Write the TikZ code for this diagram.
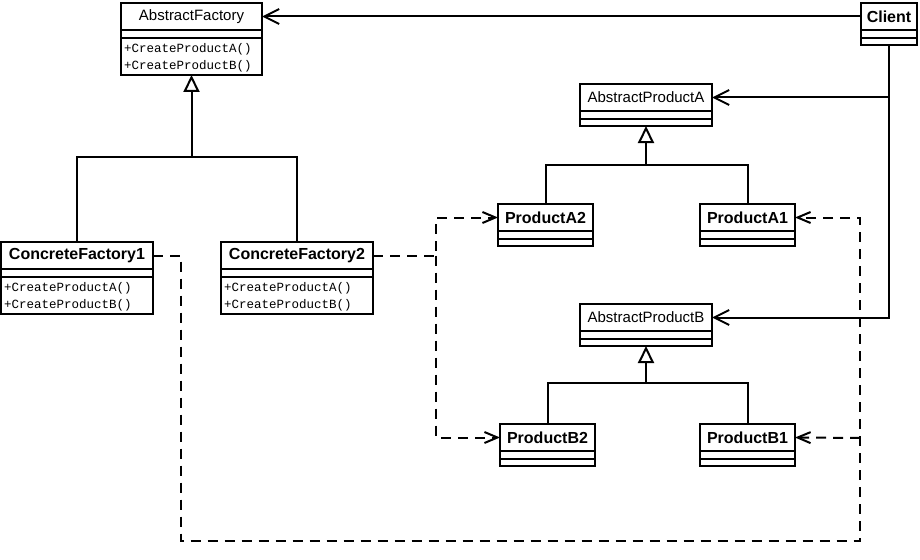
\documentclass[tikz,border=0pt]{standalone}
\usepackage{fontspec}
\setmainfont{Liberation Sans}
\setmonofont{Liberation Mono}
\usetikzlibrary{positioning,calc,arrows.meta}

\newcommand{\regfont}{\fontsize{15}{18}\selectfont}
\newcommand{\clsbold}{\fontsize{16}{19}\selectfont\bfseries}
\newcommand{\methfont}{\ttfamily\fontsize{12.5}{17}\selectfont}

% name, x, y, width, height, font, title, methods
\newcommand{\umlclass}[8]{%
  \node[cls, minimum width=#4, minimum height=#5] (#1) at (#2,#3) {};
  \node[font=#6] (#1t) at (#2+#4/2, #3+13.5) {#7};
  \draw[sepline] (#2,#3+27) -- ++(#4,0);
  \draw[sepline] (#2,#3+35) -- ++(#4,0);
  \if\relax\detokenize{#8}\relax\else
    \node[meth] (#1m) at (#2+2,#3+39) {#8};
  \fi
}

\begin{document}
\begin{tikzpicture}[x=1pt,y=-1pt,
    cls/.style={draw,rectangle,line width=2pt,anchor=north west,inner sep=0pt,outer sep=0pt},
    sepline/.style={line width=2pt},
    meth/.style={anchor=north west,inner sep=1pt,align=left,font=\methfont},
    assoc/.style={line width=2pt,-{Straight Barb[length=15pt,width=15pt]}},
    dep/.style={line width=2pt,dash pattern=on 10pt off 7pt,-{Straight Barb[length=13pt,width=11pt]}},
    inh/.style={line width=2pt,-{Triangle[open,length=17pt,width=16pt,fill=white]}},
    bar/.style={line width=2pt}]
  \useasboundingbox (0,0) rectangle (920,559);

  % factories
  \umlclass{af}{121}{3}{141}{72}{\regfont}{AbstractFactory}{+CreateProductA()\\+CreateProductB()}
  \umlclass{cfa}{1}{242}{152}{72}{\clsbold}{ConcreteFactory1}{+CreateProductA()\\+CreateProductB()}
  \umlclass{cfb}{221}{242}{152}{72}{\clsbold}{ConcreteFactory2}{+CreateProductA()\\+CreateProductB()}
  \umlclass{client}{861}{3}{56}{42}{\clsbold}{Client}{}

  % products
  \umlclass{apa}{580}{84}{132}{42}{\regfont}{AbstractProductA}{}
  \umlclass{pa2}{498}{204}{95}{42}{\clsbold}{ProductA2}{}
  \umlclass{pa1}{700}{204}{95}{42}{\clsbold}{ProductA1}{}
  \umlclass{apb}{580}{304}{132}{42}{\regfont}{AbstractProductB}{}
  \umlclass{pb2}{500}{424}{95}{42}{\clsbold}{ProductB2}{}
  \umlclass{pb1}{700}{424}{95}{42}{\clsbold}{ProductB1}{}

  % inheritance
  \coordinate (fbar) at ($(af.south)+(0,82)$);
  \draw[bar] (cfa.north) |- (fbar) -| (cfb.north);
  \draw[inh] (fbar) -- (af.south);

  \coordinate (abar) at ($(apa.south)+(0,39)$);
  \draw[bar] (pa2.north) |- (abar) -| (pa1.north);
  \draw[inh] (abar) -- (apa.south);

  \coordinate (bbar) at ($(apb.south)+(0,37)$);
  \draw[bar] (pb2.north) |- (bbar) -| (pb1.north);
  \draw[inh] (bbar) -- (apb.south);

  % associations from the client
  \draw[assoc] (client.west |- clientt) -- (af.east |- clientt);
  \draw[assoc] (client.south) |- (apb.east |- apbt);
  \draw[assoc] (client.south |- apat) -- (apa.east |- apat);

  % creates
  \coordinate (cfbj) at ($(cfb.east |- cfbt)+(63,0)$);
  \draw[dep] (cfb.east |- cfbt) -- (cfbj) |- (pa2.west |- pa2t);
  \draw[dep] (cfbj) |- (pb2.west |- pb2t);

  \coordinate (cfaj) at (181,541);
  \coordinate (rj) at (860,438);
  \draw[dep] (cfa.east |- cfat) -| (cfaj) -| (rj) |- (pa1.east |- pa1t);
  \draw[dep] (rj) -- (pb1.east |- pb1t);
\end{tikzpicture}
\end{document}
